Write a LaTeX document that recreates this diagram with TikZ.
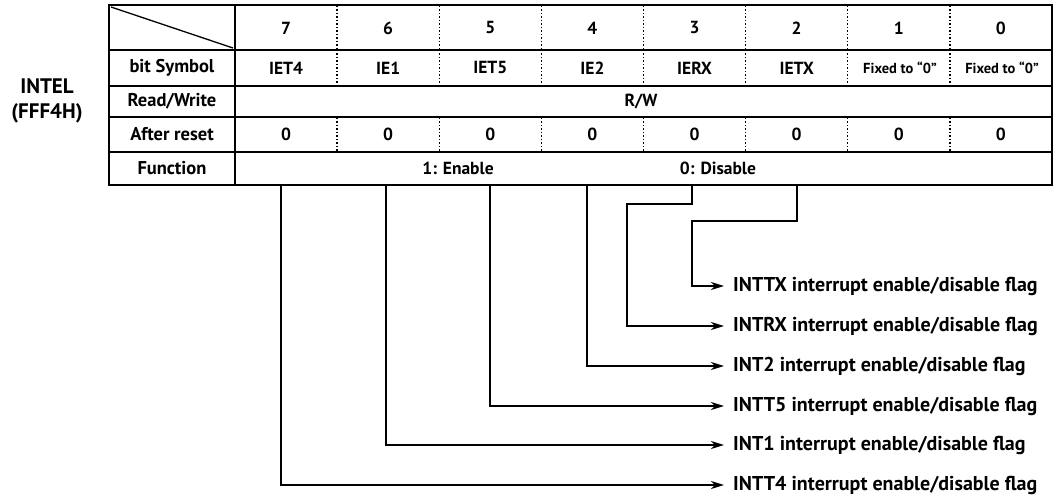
\documentclass[tikz,border=0pt]{standalone}
\usepackage{fontspec}
\setmainfont{PT Sans}
\usetikzlibrary{arrows.meta}
\begin{document}
\begin{tikzpicture}[x=1pt,y=-1pt,
  tbl/.style={line width=1.7pt},
  dotv/.style={line width=1.4pt,dash pattern=on 1.3pt off 2.2pt},
  cell/.style={inner sep=0pt,font=\fontsize{17.5}{18}\selectfont\bfseries},
  rowlab/.style={inner sep=0pt,font=\fontsize{18.5}{19}\selectfont\bfseries},
  small/.style={inner sep=0pt,font=\fontsize{14.5}{15}\selectfont\bfseries},
  flag/.style={anchor=west,inner sep=0pt,font=\fontsize{20}{22}\selectfont\bfseries},
  conn/.style={line width=1.7pt,-{Stealth[length=13pt,width=8pt,inset=4pt]}},
  wire/.style={line width=1.7pt}]
\useasboundingbox (0,0) rectangle (1059,502);
% table frame
\draw[tbl] (109,5) rectangle (1052,185);
\foreach \y in {50,86,117,152} \draw[tbl] (109,\y) -- (1052,\y);
\draw[tbl] (235,5) -- (235,185);
\draw[line width=1.3pt] (111,7) -- (233,48);
\foreach \i in {1,...,7} {
  \pgfmathsetmacro{\xx}{235+102.125*\i}
  \draw[dotv] (\xx,6) -- (\xx,50);
  \draw[dotv] (\xx,50) -- (\xx,86);
  \draw[dotv] (\xx,118) -- (\xx,152);
}
% left label
\node[inner sep=0pt,align=center,font=\fontsize{21}{25}\selectfont\bfseries] (reg) at (47,101) {INTEL\\(FFF4H)};
% row labels
\node[rowlab] (hbit) at (172,68) {bit Symbol};
\node[rowlab] (hrw) at (172,101.5) {Read/Write};
\node[rowlab] (har) at (172,134.5) {After reset};
\node[rowlab] (hfn) at (172,168.5) {Function};
% bits
\foreach \b [count=\i from 0] in {7,6,5,4,3,2,1,0} {
  \pgfmathsetmacro{\xc}{235+102.125*\i+51.06}
  \node[cell] (n\b) at (\xc,28) {\b};
  \node[cell] (r\b) at (\xc,134.5) {0};
}
\foreach \s [count=\i from 0] in {IET4,IE1,IET5,IE2,IERX,IETX} {
  \pgfmathsetmacro{\xc}{235+102.125*\i+51.06}
  \node[cell] (s\i) at (\xc,68) {\s};
}
\node[small] (s6) at (900,68) {Fixed to “0”};
\node[small] (s7) at (1002,68) {Fixed to “0”};
\node[cell] (rw) at (641,101.5) {R/W};
\node[cell] (fen) at (458,168.5) {1: Enable};
\node[cell] (fdis) at (718,168.5) {0: Disable};
% connector sources
\coordinate (b7) at (281,185);
\coordinate (b6) at (386,185);
\coordinate (b5) at (490,185);
\coordinate (b4) at (587,185);
\coordinate (b3) at (692,185);
\coordinate (b2) at (797,185);
\coordinate (j3a) at (692,204);
\coordinate (j3b) at (627,204);
\coordinate (j2a) at (797,221);
\coordinate (j2b) at (692,221);
% flag labels
\node[flag] (lTX) at (733,286) {INTTX interrupt enable/disable flag};
\node[flag] (lRX) at (733,326) {INTRX interrupt enable/disable flag};
\node[flag] (l2) at (733,366) {INT2 interrupt enable/disable flag};
\node[flag] (lT5) at (733,406) {INTT5 interrupt enable/disable flag};
\node[flag] (l1) at (733,445) {INT1 interrupt enable/disable flag};
\node[flag] (lT4) at (733,485) {INTT4 interrupt enable/disable flag};
% connectors
\draw[conn,shorten >=9pt] (b2) -- (j2a) -- (j2b) |- (lTX.west);
\draw[conn,shorten >=9pt] (b3) -- (j3a) -- (j3b) |- (lRX.west);
\draw[conn,shorten >=9pt] (b4) |- (l2.west);
\draw[conn,shorten >=9pt] (b5) |- (lT5.west);
\draw[conn,shorten >=9pt] (b6) |- (l1.west);
\draw[conn,shorten >=9pt] (b7) |- (lT4.west);
\end{tikzpicture}
\end{document}
